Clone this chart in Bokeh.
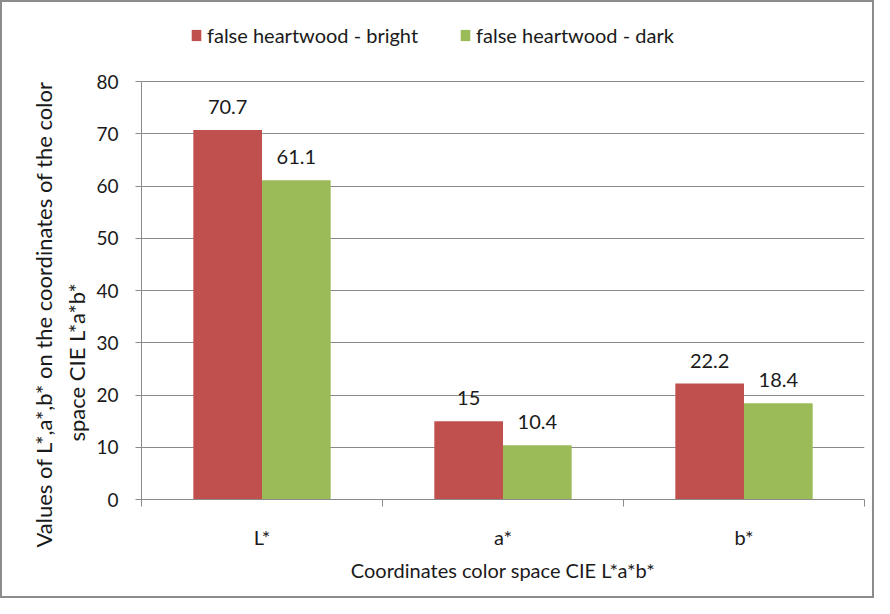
from bokeh.plotting import figure
from bokeh.models import (Range1d, FixedTicker, ColumnDataSource, LabelSet, Legend, LegendItem, Title)
from bokeh.core.properties import value
from bokeh.transform import dodge
from bokeh.embed import file_html
from bokeh.resources import INLINE

categories = ["L*", "a*", "b*"]
bright = [70.7, 15.0, 22.2]
dark = [61.1, 10.4, 18.4]
series_names = ["false heartwood - bright", "false heartwood - dark"]
y_ticks = [0, 10, 20, 30, 40, 50, 60, 70, 80]
x_title = "Coordinates color space CIE L*a*b*"
y_title_lines = ["Values of L*,a*,b* on the coordinates of the color", "space CIE L*a*b*"]

FONT = "Lato"
FS = "20px"
TXT = "#1a1a1a"
AX = "#8a8a8a"
RED = "#C0504D"
GREEN = "#9BBB59"

# layout (pixels)
H = 598
TOP = 10
BOTTOM = 101
PLOT_H = 418          # pixel height from 0 to 80
FRAME_H = H - TOP - BOTTOM
y_end = 80 * FRAME_H / PLOT_H   # head-room above 80 for the legend

centers = [i + 0.5 for i in range(len(categories))]
src = ColumnDataSource(dict(
    x=centers, bright=bright, dark=dark,
    bl=[f"{v:g}" for v in bright], dl=[f"{v:g}" for v in dark],
))

p = figure(width=874, height=H, output_backend="svg", toolbar_location=None,
           x_range=Range1d(0, len(categories)), y_range=Range1d(0, y_end),
           min_border_left=139, min_border_right=12, min_border_top=TOP, min_border_bottom=BOTTOM)
p.styles = {"border": "2px solid #8c8c8c", "box-sizing": "border-box"}
p.outline_line_color = None
p.background_fill_color = "white"

W = 0.285
r1 = p.vbar(x=dodge("x", -W / 2, range=p.x_range), top="bright", width=W, source=src,
            fill_color=RED, line_color=None)
r2 = p.vbar(x=dodge("x", W / 2, range=p.x_range), top="dark", width=W, source=src,
            fill_color=GREEN, line_color=None)

for col, lab, off in (("bright", "bl", -W / 2), ("dark", "dl", W / 2)):
    p.add_layout(LabelSet(x=dodge("x", off, range=p.x_range), y=col, text=lab, source=src,
                          text_align="center", text_baseline="bottom", y_offset=16,
                          text_font=value(FONT), text_font_size=FS, text_color=TXT))

# axes
p.xaxis.ticker = FixedTicker(ticks=centers, minor_ticks=list(range(len(categories) + 1)))
p.xaxis.major_label_overrides = {c: n for c, n in zip(centers, categories)}
p.xaxis.major_tick_out = 0
p.xaxis.major_tick_in = 0
p.xaxis.minor_tick_out = 7
p.xaxis.minor_tick_in = 0
p.xaxis.minor_tick_line_color = AX
p.xaxis.major_label_standoff = 18
p.xaxis.axis_label = x_title
p.xaxis.axis_label_standoff = 6

p.yaxis.ticker = FixedTicker(ticks=y_ticks)
p.yaxis.bounds = (0, 80)
p.yaxis.major_tick_out = 6
p.yaxis.major_tick_in = 0
p.yaxis.minor_tick_line_color = None
p.yaxis.major_label_standoff = 17

for ax in (p.xaxis[0], p.yaxis[0]):
    ax.axis_line_color = AX
    ax.major_tick_line_color = AX
    ax.major_label_text_font = FONT
    ax.major_label_text_color = TXT
    ax.axis_label_text_font = FONT
    ax.axis_label_text_font_size = FS
    ax.axis_label_text_font_style = "normal"
    ax.axis_label_text_color = TXT
p.xaxis.major_label_text_font_size = FS
p.yaxis.major_label_text_font_size = "19px"

# two-line y title (second line nearest to the axis)
for txt, off, so in ((y_title_lines[1], 58, 7), (y_title_lines[0], -48, 1)):
    p.add_layout(Title(text=txt, align="left", offset=off, standoff=so,
                       text_font=FONT, text_font_size="22px", text_font_style="normal",
                       text_color=TXT), "left")

p.xgrid.grid_line_color = None
p.ygrid.ticker = FixedTicker(ticks=y_ticks)
p.ygrid.grid_line_color = AX

legend = Legend(items=[LegendItem(label=series_names[0], renderers=[r1]),
                       LegendItem(label=series_names[1], renderers=[r2])],
                orientation="horizontal", location=(49, FRAME_H - 35),
                label_text_font=FONT, label_text_font_size=FS, label_text_color=TXT,
                glyph_width=12, glyph_height=14, label_standoff=5, spacing=41,
                border_line_color=None, background_fill_alpha=0, padding=0, margin=0)
p.add_layout(legend, "center")

open("out.html", "w").write(file_html(p, INLINE))
